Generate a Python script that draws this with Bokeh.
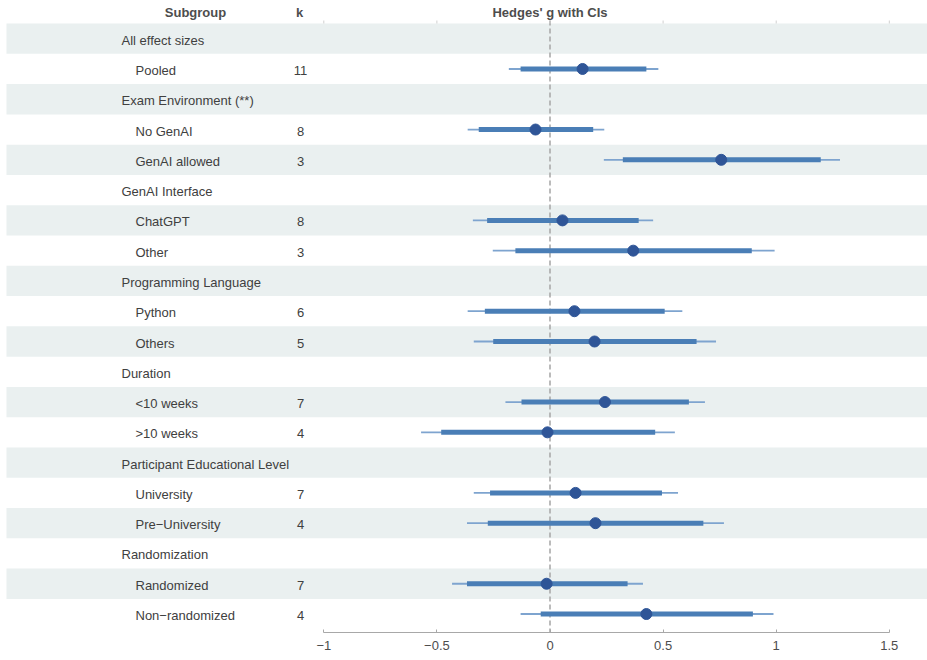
from bokeh.plotting import figure
from bokeh.models import Range1d, FixedTicker, ColumnDataSource
from bokeh.core.properties import value
from bokeh.embed import file_html
from bokeh.resources import INLINE

# ---- data: subgroup analysis of Hedges' g ----
groups = ["All effect sizes", "Exam Environment (**)", "GenAI Interface",
          "Programming Language", "Duration", "Participant Educational Level",
          "Randomization"]
subgroups = [["Pooled"], ["No GenAI", "GenAI allowed"], ["ChatGPT", "Other"],
             ["Python", "Others"], ["<10 weeks", ">10 weeks"],
             ["University", "Pre\u2212University"],
             ["Randomized", "Non\u2212randomized"]]
k = [11, 8, 3, 8, 3, 6, 5, 7, 4, 7, 4, 7, 4]
g = [0.144, -0.064, 0.757, 0.055, 0.368, 0.108, 0.197, 0.243, -0.011,
     0.113, 0.201, -0.015, 0.426]
ci_lo = [-0.130, -0.315, 0.322, -0.278, -0.153, -0.288, -0.251, -0.126,
         -0.481, -0.265, -0.275, -0.367, -0.041]
ci_hi = [0.426, 0.191, 1.197, 0.392, 0.892, 0.507, 0.648, 0.614, 0.465,
         0.495, 0.678, 0.343, 0.897]
pi_lo = [-0.182, -0.364, 0.238, -0.341, -0.253, -0.364, -0.337, -0.197,
         -0.570, -0.337, -0.367, -0.433, -0.130]
pi_hi = [0.479, 0.240, 1.282, 0.456, 0.993, 0.585, 0.734, 0.685, 0.552,
         0.566, 0.769, 0.411, 0.988]
ticks = [-1, -0.5, 0, 0.5, 1, 1.5]
headers = ["Subgroup", "k", "Hedges' g with CIs"]

# ---- layout (pixels) ----
W, H = 927, 660
AXIS_Y = 632            # frame bottom / x-axis line
X_LEFT_PX, X_RIGHT_PX = 323.3, 888.8   # pixel position of -1 and 1.5
PX_PER_UNIT = (X_RIGHT_PX - X_LEFT_PX) / 2.5
ROW0_PX, ROW_PX = 38.2, 30.28


def px_x(px):
    return -1 + (px - X_LEFT_PX) / PX_PER_UNIT


def px_y(px):
    return (px - ROW0_PX) / ROW_PX


x_start, x_end = px_x(0), px_x(W)
y_bottom, y_top = px_y(AXIS_Y), px_y(0)

# build table rows: group header followed by its subgroups
row_text, row_x, row_y = [], [], []
sub_y = []
r = 0
for grp, subs in zip(groups, subgroups):
    row_text.append(grp); row_x.append(px_x(121)); row_y.append(r)
    r += 1
    for s in subs:
        row_text.append(s); row_x.append(px_x(135)); row_y.append(r)
        sub_y.append(r)
        r += 1
n_rows = r

p = figure(width=W, height=H, output_backend="svg", toolbar_location=None,
           x_range=Range1d(x_start, x_end), y_range=Range1d(y_bottom, y_top),
           y_axis_location=None, min_border_left=0, min_border_right=0,
           min_border_top=0, min_border_bottom=H - AXIS_Y)
p.grid.visible = False
p.outline_line_color = None
p.background_fill_color = "white"
p.border_fill_color = "white"

# alternating row bands
band_y = [i for i in range(n_rows) if i % 2 == 0]
p.hbar(y=band_y, height=1.0, left=px_x(6), right=x_end,
       fill_color="#eaf0f0", line_color=None)

# reference line at zero
p.segment(x0=[0], x1=[0], y0=[px_y(20)], y1=[y_bottom],
          line_color="#aaaaaa", line_width=1.6, line_dash="5 3")

# small tick marks along the top
p.segment(x0=ticks, x1=ticks, y0=[px_y(20)] * len(ticks),
          y1=[px_y(23)] * len(ticks), line_color="#d0d0d0", line_width=1)

src = ColumnDataSource(dict(y=sub_y, g=g, ci_lo=ci_lo, ci_hi=ci_hi,
                            pi_lo=pi_lo, pi_hi=pi_hi,
                            k=[str(v) for v in k],
                            kx=[px_x(300)] * len(k)))

# prediction interval (thin), confidence interval (thick), point estimate
p.segment(x0="pi_lo", x1="pi_hi", y0="y", y1="y", source=src,
          line_color="#7ea4cf", line_width=1.8)
p.segment(x0="ci_lo", x1="ci_hi", y0="y", y1="y", source=src,
          line_color="#4a7eb6", line_width=5)
p.scatter(x="g", y="y", source=src, size=11, fill_color="#2f5597",
          line_color="#2f5597")

FONT = value("Liberation Sans")
TEXT_COLOR = "#404040"

# row labels
p.text(x=row_x, y=row_y, text=row_text, text_font=FONT,
       text_font_size="13px", text_color=TEXT_COLOR, y_offset=1.5,
       text_baseline="middle", text_align="left")

# k column
p.text(x="kx", y="y", text="k", source=src, text_font=FONT,
       text_font_size="13px", text_color=TEXT_COLOR, y_offset=1.5,
       text_baseline="middle", text_align="center")

# column headers
p.text(x=[px_x(195), px_x(299), 0], y=[px_y(12)] * 3, text=headers,
       text_font=FONT, text_font_size="13px", text_font_style="bold",
       text_color="#4d4d4d", text_baseline="middle", text_align="center")

# bottom axis
ax = p.xaxis[0]
ax.ticker = FixedTicker(ticks=ticks)
ax.bounds = (-1, 1.5)
ax.minor_tick_line_color = None
ax.major_tick_in = 3
ax.major_tick_out = 0
ax.axis_line_color = "#a8a8a8"
ax.major_tick_line_color = "#a8a8a8"
ax.major_label_standoff = 8
ax.major_label_text_font = "Liberation Sans"
ax.major_label_text_font_size = "13px"
ax.major_label_text_color = "#4d4d4d"
ax.major_label_overrides = {t: ("\u2212" + str(abs(t)).rstrip("0").rstrip(".")
                                if t < 0 else ("%g" % t)) for t in ticks}

open("out.html", "w").write(file_html(p, INLINE))
